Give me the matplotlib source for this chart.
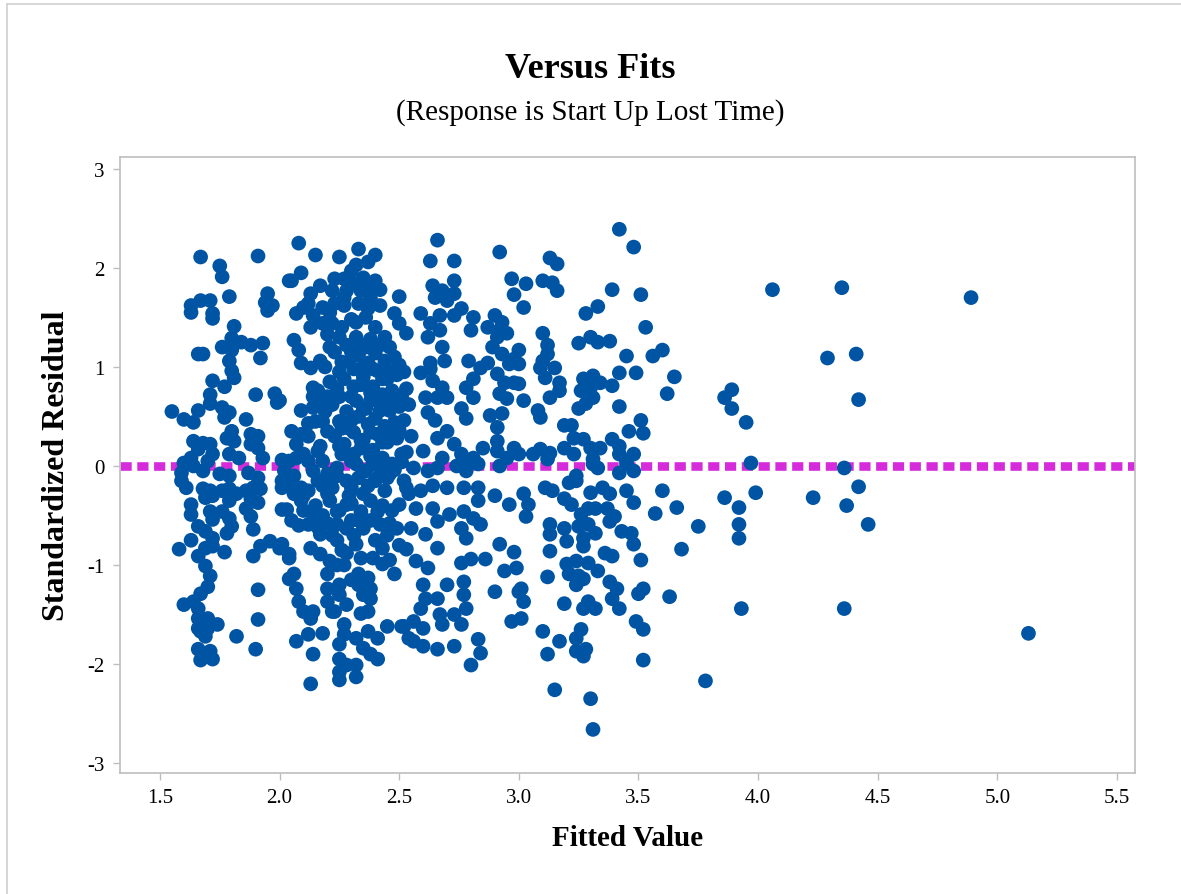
import matplotlib
matplotlib.use("Agg")
import matplotlib.pyplot as plt
from matplotlib.lines import Line2D

plt.rcParams["font.family"] = ["Liberation Serif", "DejaVu Serif"]
plt.rcParams["axes.unicode_minus"] = False

# fitted values and standardized residuals, grouped by region of the plot
fit_left = [
    1.67, 1.91, 1.75, 1.76, 2.04, 1.63, 1.67, 1.71, 1.63, 1.72, 1.72, 1.79,
    1.95, 1.94, 1.97, 1.95, 1.81, 1.80, 1.76, 1.84, 1.88, 1.93, 1.92, 1.80,
    1.79, 1.80, 1.81, 1.66, 1.68, 1.72, 1.77, 1.90, 1.98, 1.99, 1.71, 1.71,
    1.55, 1.60, 1.64, 1.66, 1.76, 1.79, 1.77, 1.86, 1.80, 1.78, 1.81, 1.79,
    1.83, 1.88, 1.91, 1.88, 1.91, 1.93, 1.64, 1.68, 1.71, 1.66, 1.72, 1.70,
    1.63, 1.60, 1.59, 1.64, 1.68, 2.01, 1.75, 1.79, 1.87, 1.91, 2.01,
    1.59, 1.61, 1.68, 1.71, 1.69, 1.72, 1.76, 1.79, 1.79, 1.82, 1.86, 1.89,
    1.92, 1.91, 1.88, 2.01, 2.01, 1.63, 1.63, 1.71, 1.72, 1.76, 1.79, 1.80,
    1.78, 1.86, 1.88, 1.89, 1.66, 1.69, 1.72, 1.72, 1.63, 1.58, 1.66, 1.69,
    1.77, 1.89, 1.92, 1.96, 2.00, 2.04, 1.69, 1.71, 1.70, 1.67, 1.91, 2.04,
    1.60, 1.64, 1.66, 1.66, 1.70, 1.66, 1.70, 1.74, 1.69, 1.67, 1.91, 1.82,
    1.66, 1.71, 1.67, 1.72, 1.90,
]
res_left = [
    2.11, 2.12, 2.02, 1.91, 1.87, 1.62, 1.67, 1.67, 1.55, 1.54, 1.49, 1.71,
    1.74, 1.65, 1.62, 1.57, 1.41, 1.29, 1.20, 1.25, 1.22, 1.24, 1.09, 1.17,
    1.06, 0.96, 0.89, 1.13, 1.13, 0.86, 0.80, 0.72, 0.73, 0.64, 0.72, 0.63,
    0.55, 0.47, 0.44, 0.56, 0.59, 0.54, 0.49, 0.47, 0.35, 0.28, 0.25, 0.12,
    0.08, 0.32, 0.30, 0.22, 0.18, 0.08, 0.25, 0.23, 0.22, 0.17, 0.12, 0.05,
    0.08, 0.03, -0.07, 0.00, -0.05, 0.06, -0.08, -0.10, -0.07, -0.12, -0.15,
    -0.15, -0.22, -0.23, -0.25, -0.32, -0.30, -0.25, -0.23, -0.35, -0.28, -0.25, -0.22,
    -0.23, -0.37, -0.33, -0.22, -0.44, -0.39, -0.49, -0.46, -0.54, -0.46, -0.53, -0.61,
    -0.68, -0.43, -0.51, -0.64, -0.61, -0.66, -0.73, -0.81, -0.75, -0.84, -0.91, -0.83,
    -0.87, -0.91, -0.81, -0.76, -0.83, -0.93, -1.01, -1.11, -1.22, -1.29, -1.25, -1.14,
    -1.40, -1.37, -1.44, -1.54, -1.54, -1.64, -1.64, -1.60, -1.72, -1.67, -1.55, -1.72,
    -1.85, -1.87, -1.96, -1.95, -1.85,
]

fit_mid = [
    2.08, 2.15, 2.25, 2.33, 2.40, 2.32, 2.37, 2.05, 2.09, 2.17, 2.23, 2.27,
    2.35, 2.40, 2.42, 2.22, 2.28, 2.34, 2.38, 2.42, 2.50, 2.13, 2.12, 2.07,
    2.10, 2.18, 2.23, 2.27, 2.33, 2.37, 2.14, 2.13, 2.18, 2.22, 2.26, 2.32,
    2.48, 2.50, 2.53, 2.06, 2.08, 2.09, 2.13, 2.17, 2.14, 2.16, 2.18, 2.09,
    2.14, 2.12, 2.09, 2.07, 2.07, 2.00, 2.04, 2.14, 2.20,
    2.03, 2.04, 2.09, 2.09, 2.01, 2.04, 2.06, 2.07, 2.08, 2.10, 2.13, 2.14,
    2.07, 2.12, 2.14, 2.13, 2.18, 2.12, 2.14, 2.17, 2.13, 2.17, 2.21, 2.20,
    2.20, 2.20, 2.22, 2.22, 2.21, 2.24, 2.28, 2.24, 2.28, 2.35, 2.34, 2.35,
    2.32, 2.34, 2.33, 2.33, 2.35, 2.38, 2.25, 2.25, 2.28, 2.23, 2.27, 2.27,
    2.34, 2.37, 2.25, 2.25, 2.25, 2.25, 2.28, 2.32, 2.32, 2.32, 2.37, 2.35,
    2.41, 2.41, 2.38, 2.45, 2.51, 2.54, 2.41, 2.42, 2.43, 2.39, 2.43, 2.48,
    2.49, 2.50, 2.54, 2.38, 2.37,
]
res_mid = [
    2.25, 2.13, 2.11, 2.19, 2.13, 2.03, 2.06, 1.87, 1.95, 1.82, 1.89, 1.89,
    1.90, 1.87, 1.78, 1.77, 1.77, 1.77, 1.69, 1.62, 1.71, 1.74, 1.64, 1.54,
    1.60, 1.60, 1.64, 1.62, 1.64, 1.59, 1.52, 1.40, 1.44, 1.44, 1.40, 1.45,
    1.54, 1.44, 1.34, 1.27, 1.17, 1.04, 0.99, 1.06, 0.79, 0.76, 0.64, 0.56,
    0.59, 0.43, 0.32, 0.22, 0.08, 0.66, 0.05, -0.05, -0.08,
    -0.44, -0.15, -0.22, -0.35, -0.79, -0.89, -1.09, -1.24, -1.37, -1.47, -1.54, -1.47,
    -1.77, -1.70, -1.90, -2.20, -1.69, -0.59, -0.49, -0.69, -0.83, -0.89, -0.96, -1.09,
    -1.24, -1.37, -1.47, -0.12, -0.35, -0.46, -0.39, -0.59, -0.63, -0.28, -0.46, -0.63,
    -0.79, -0.93, -1.09, -1.20, -1.30, -1.34, -1.20, -1.30, -1.40, -1.47, -1.60, -1.70,
    -1.49, -1.47, -1.80, -1.95, -2.08, -2.16, -2.01, -2.01, -2.13, -1.74, -1.67, -1.84,
    -1.74, -1.95, -1.90, -1.62, -1.62, -1.74, -0.46, -0.59, -0.83, -0.93, -0.99, -1.09,
    -0.63, -0.39, -0.28, -1.24, -1.13,
]

# densest cluster, roughly 2.0 < fit < 2.55
fit_core = [
    2.23, 2.25, 2.24, 2.22, 2.25, 2.23, 2.26, 2.24, 2.22,
    2.28, 2.29, 2.27, 2.30, 2.28, 2.29, 2.27, 2.30, 2.28, 2.29,
    2.32, 2.33, 2.31, 2.34, 2.32, 2.33, 2.31, 2.34, 2.32, 2.33,
    2.36, 2.37, 2.35, 2.38, 2.36, 2.37, 2.35, 2.38, 2.36, 2.37,
    2.40, 2.41, 2.39, 2.42, 2.40, 2.41, 2.39, 2.42, 2.40,
    2.44, 2.45, 2.43, 2.46, 2.44, 2.45, 2.43, 2.46,
    2.48, 2.49, 2.47, 2.50, 2.48, 2.49, 2.51, 2.48,
    2.52, 2.53, 2.54, 2.52, 2.55, 2.53,
    2.12, 2.15, 2.17, 2.19, 2.20, 2.18, 2.16, 2.20, 2.12, 2.10, 2.21, 2.19, 2.21,
    2.02, 2.06, 2.10, 2.05, 2.18, 2.22, 2.26, 2.18, 2.25, 2.30, 2.31, 2.27, 2.30,
    2.38, 2.44, 2.47, 2.45, 2.40, 2.52, 2.50, 2.46,
    2.26, 2.25, 2.26, 2.25, 2.24, 2.30, 2.31, 2.30, 2.31, 2.30,
    2.34, 2.35, 2.35, 2.34, 2.35, 2.38, 2.39, 2.38, 2.38, 2.39,
    2.42, 2.43, 2.42, 2.43, 2.42, 2.46, 2.47, 2.46, 2.47,
    2.50, 2.51, 2.50, 2.51,
    2.30, 2.36, 2.40, 2.44, 2.46, 2.25, 2.20, 2.27, 2.31, 2.37, 2.30, 2.21,
    2.06, 2.10, 2.15, 2.08, 2.16, 2.20, 2.24, 2.28, 2.24, 2.30, 2.33, 2.38,
    2.43, 2.46, 2.40, 2.45, 2.12, 2.16, 2.05, 2.18, 2.14, 2.20,
]
res_core = [
    1.15, 0.95, 0.78, 0.62, 0.45, 0.30, 0.12, -0.02, -0.22,
    1.22, 1.05, 0.88, 0.70, 0.55, 0.38, 0.22, 0.05, -0.15, -0.30,
    1.30, 1.12, 0.98, 0.82, 0.66, 0.50, 0.34, 0.18, 0.02, -0.12,
    1.20, 1.04, 0.90, 0.74, 0.58, 0.42, 0.26, 0.10, -0.05, -0.20,
    1.14, 0.96, 0.80, 0.64, 0.48, 0.32, 0.16, 0.00, -0.14,
    1.06, 0.88, 0.72, 0.56, 0.40, 0.24, 0.08, -0.08,
    1.10, 0.92, 0.76, 0.60, 0.44, 0.28, 0.12, -0.04,
    0.95, 0.78, 0.62, 0.46, 0.30, 0.14,
    0.30, 0.45, 0.20, 0.55, 0.35, 0.05, -0.15, -0.28, -0.25, 0.12, 0.85, 1.00, 1.20,
    -0.05, -0.28, -0.45, -0.55, -0.50, -0.70, -0.85, -0.20, -0.45, -0.55, -0.70, -1.00, -1.15,
    -0.35, -0.25, -0.45, -0.70, -0.75, -0.15, -0.80, -0.95,
    1.05, 0.70, 0.38, 0.20, -0.10, 1.15, 0.80, 0.46, 0.12, -0.22,
    1.22, 1.00, 0.58, 0.26, -0.05, 1.28, 0.98, 0.66, 0.34, 0.02,
    1.22, 0.88, 0.56, 0.24, -0.08, 0.96, 0.64, 0.32, 0.02,
    1.02, 0.70, 0.36, 0.04,
    1.48, 1.50, 1.40, 1.30, 1.20, 1.30, 1.33, 1.70, 1.84, 1.80, 1.97, 1.55,
    -0.10, -0.30, -0.40, -0.60, -0.62, -0.58, -0.75, -0.88, -1.00, -0.38, -0.55, -0.55,
    -0.40, -0.58, -0.15, -0.12, 0.05, 0.15, 0.35, 0.45, 0.70, 0.70,
]

fit_right = [
    2.66, 2.63, 2.73, 2.92, 2.97, 3.03, 2.98, 3.02, 2.64, 2.68, 2.73, 2.65,
    2.70, 2.73, 2.59, 2.67, 2.63, 2.67, 2.62, 2.76, 2.81, 2.73, 2.80, 2.90,
    2.93, 2.87, 2.92, 2.95, 2.91, 2.89, 2.93, 3.00, 2.96, 2.98, 2.68, 2.69,
    2.63, 2.63, 2.79, 2.84, 2.87, 2.81, 2.78, 2.81, 2.91, 2.94, 2.98, 2.92,
    2.95, 3.02, 2.59, 2.64, 2.68, 2.70, 2.66, 2.61, 2.62, 2.76, 2.78, 2.88,
    2.93, 2.91, 2.91, 2.91, 2.65, 2.70, 2.66, 2.73, 2.76, 2.68, 2.60, 2.85,
    2.81, 2.78, 2.98, 3.00, 2.95,
    2.56, 2.62, 2.66, 2.74, 2.78, 2.83, 2.92, 2.53, 2.59, 2.64, 2.70, 2.77,
    2.83, 2.83, 2.90, 2.96, 3.02, 3.03, 2.57, 2.64, 2.71, 2.77, 2.81, 2.84,
    2.55, 2.61, 2.66, 2.76, 2.78, 2.53, 2.57, 2.62, 2.66, 2.76, 2.80, 2.86,
    2.92, 2.98, 2.94, 2.99, 2.60, 2.61, 2.59, 2.66, 2.70, 2.77, 2.77, 2.78,
    2.67, 2.73, 2.76, 2.68, 2.90, 3.00, 3.02, 2.97, 3.01, 2.52, 2.56, 2.60,
    2.56, 2.60, 2.66, 2.73, 2.83, 2.84, 2.80,
]
res_right = [
    2.28, 2.07, 2.07, 2.16, 1.89, 1.84, 1.73, 1.60, 1.82, 1.77, 1.87, 1.70,
    1.67, 1.74, 1.54, 1.52, 1.44, 1.37, 1.30, 1.59, 1.50, 1.52, 1.37, 1.52,
    1.45, 1.40, 1.37, 1.34, 1.30, 1.20, 1.13, 1.17, 1.03, 1.08, 1.20, 1.06,
    1.04, 0.98, 1.06, 0.99, 1.04, 0.88, 0.79, 0.69, 0.93, 0.84, 0.84, 0.73,
    0.68, 0.66, 0.94, 0.86, 0.79, 0.69, 0.69, 0.69, 0.54, 0.58, 0.48, 0.51,
    0.53, 0.39, 0.25, 0.15, 0.46, 0.35, 0.28, 0.22, 0.12, 0.08, 0.15, 0.18,
    0.08, 0.02, 0.18, 0.12, 0.08,
    -0.02, -0.05, -0.02, 0.00, -0.05, 0.02, 0.00, -0.22, -0.25, -0.20, -0.22, -0.22,
    -0.22, -0.35, -0.30, -0.39, -0.28, -0.51, -0.43, -0.43, -0.49, -0.46, -0.53, -0.59,
    -0.63, -0.69, -0.56, -0.63, -0.73, -0.84, -0.96, -1.03, -0.83, -0.98, -0.94, -0.94,
    -0.79, -0.87, -1.06, -1.03, -1.20, -1.34, -1.44, -1.34, -1.20, -1.17, -1.30, -1.44,
    -1.50, -1.50, -1.60, -1.60, -1.27, -1.27, -1.37, -1.57, -1.54, -1.62, -1.57, -1.64,
    -1.77, -1.82, -1.85, -1.82, -1.75, -1.89, -2.01,
]

fit_high = [
    3.42, 3.48, 3.13, 3.16, 3.10, 3.14, 3.16, 3.39, 3.51, 3.28, 3.33, 3.53,
    3.10, 3.12, 3.25, 3.30, 3.33, 3.38, 3.00, 3.10, 3.12, 3.09, 3.11, 3.15,
    3.17, 3.17, 3.13, 3.45, 3.56, 3.60, 3.42, 3.49, 3.27, 3.31, 3.26, 3.30,
    3.34, 3.39, 3.31, 3.28, 3.25, 3.00, 3.42, 3.62, 3.08, 3.09, 3.19, 3.22,
    3.23, 3.27, 3.39, 3.42, 3.46, 3.51, 3.52, 3.06, 3.09, 3.13, 3.12, 3.19,
    3.23, 3.30, 3.34, 3.31, 3.42, 3.48, 3.45, 3.42, 3.48, 3.33, 3.24,
    3.31, 3.45, 3.11, 3.14, 3.21, 3.24, 3.19, 3.22, 3.04, 3.30, 3.35, 3.38,
    3.32, 3.29, 3.37, 3.40, 3.45, 3.48, 3.60, 3.57, 3.26, 3.25, 3.29, 3.32,
    3.27, 3.38, 3.13, 3.13, 3.19, 3.20, 3.27, 3.43, 3.47, 3.48, 3.13, 3.36,
    3.39, 3.51, 3.20, 3.24, 3.29, 3.33, 3.21, 3.25, 3.24, 3.27, 3.12, 3.38,
    3.41, 3.39, 3.42, 3.50, 3.52, 3.63, 3.01, 3.19, 3.27, 3.32, 3.29, 3.49,
    3.52, 3.10, 3.17, 3.12, 3.26, 3.24, 3.24, 3.28, 3.27, 3.52, 3.15, 3.30,
    3.31,
    4.06, 4.35, 4.29, 4.41, 3.65, 3.89, 3.86, 3.89, 3.95, 4.42, 3.97, 4.36,
    4.42, 3.86, 3.99, 4.23, 3.92, 3.66, 4.37, 3.75, 3.92, 3.92, 4.46, 3.68,
    3.93, 4.36, 4.89, 5.13, 3.78,
]
res_high = [
    2.39, 2.21, 2.10, 2.04, 1.87, 1.85, 1.77, 1.78, 1.73, 1.54, 1.61, 1.40,
    1.34, 1.22, 1.24, 1.30, 1.25, 1.26, 1.03, 1.06, 1.13, 0.99, 0.89, 0.99,
    0.84, 0.76, 0.69, 1.11, 1.11, 1.17, 0.94, 0.94, 0.88, 0.91, 0.76, 0.79,
    0.84, 0.81, 0.69, 0.63, 0.58, 0.83, 0.60, 0.73, 0.56, 0.49, 0.41, 0.41,
    0.28, 0.27, 0.27, 0.20, 0.35, 0.46, 0.33, 0.12, 0.17, 0.13, 0.07, 0.18,
    0.12, 0.18, 0.18, 0.07, 0.12, 0.12, 0.05, -0.07, -0.05, -0.02, -0.10,
    0.02, 0.02, -0.22, -0.25, -0.17, -0.15, -0.33, -0.39, -0.39, -0.27, -0.22, -0.28,
    -0.43, -0.43, -0.43, -0.51, -0.25, -0.37, -0.25, -0.48, -0.49, -0.61, -0.59, -0.68,
    -0.73, -0.56, -0.59, -0.69, -0.63, -0.76, -0.81, -0.66, -0.68, -0.79, -0.86, -0.88,
    -0.91, -0.95, -0.99, -0.96, -0.98, -1.06, -1.09, -1.11, -1.20, -1.14, -1.12, -1.17,
    -1.24, -1.34, -1.44, -1.29, -1.24, -1.32, -1.24, -1.39, -1.44, -1.44, -1.37, -1.57,
    -1.65, -1.67, -1.77, -1.90, -1.65, -1.74, -1.87, -1.85, -1.92, -1.96, -2.26, -2.35,
    -2.66,
    1.78, 1.80, 1.09, 1.13, 0.90, 0.77, 0.69, 0.58, 0.44, 0.67, 0.03, -0.02,
    -0.21, -0.32, -0.27, -0.32, -0.42, -0.42, -0.40, -0.61, -0.59, -0.73, -0.59, -0.84,
    -1.44, -1.44, 1.70, -1.69, -2.17,
]

fitted = fit_left + fit_mid + fit_core + fit_right + fit_high
resid = res_left + res_mid + res_core + res_right + res_high

x_ticks = [1.5, 2.0, 2.5, 3.0, 3.5, 4.0, 4.5, 5.0, 5.5]
y_ticks = [-3, -2, -1, 0, 1, 2, 3]

dot_color = "#0054A4"
ref_color = "#D52BDB"
frame_gray = "#BEBEBE"

fig = plt.figure(figsize=(11.81, 8.95), dpi=100)
ax = fig.add_axes([0.1016, 0.1352, 0.8594, 0.6883])

ax.axhline(0, color=ref_color, lw=6.2, linestyle=(0, (1.3, 0.65)),
           dash_capstyle="butt", zorder=1)
ax.scatter(fitted, resid, s=112, c=dot_color, edgecolors="none", zorder=3)

ax.set_xlim(1.333, 5.575)
ax.set_ylim(-3.10, 3.12)
ax.set_xticks(x_ticks)
ax.set_xticklabels([f"{v:.1f}" for v in x_ticks])
ax.set_yticks(y_ticks)
ax.set_yticklabels([str(v) for v in y_ticks])

for side in ax.spines.values():
    side.set_color(frame_gray)
    side.set_linewidth(1.2)
ax.tick_params(direction="out", length=5, width=1, color=frame_gray,
               labelsize=15, pad=6)

ax.set_xlabel("Fitted Value", fontsize=21, fontweight="bold", labelpad=12)
ax.set_ylabel("Standardized Residual", fontsize=23, fontweight="bold", labelpad=12)

fig.text(0.5, 0.922, "Versus Fits", ha="center", va="center",
         fontsize=26, fontweight="bold")
fig.text(0.5, 0.874, "(Response is Start Up Lost Time)", ha="center",
         va="center", fontsize=21)

# thin gray border along the top and left edges of the page
fig.add_artist(Line2D([7 / 1181, 7 / 1181], [0, 1 - 5 / 895],
                      transform=fig.transFigure, color="#D0D0D0", lw=1.2))
fig.add_artist(Line2D([7 / 1181, 1], [1 - 5 / 895, 1 - 5 / 895],
                      transform=fig.transFigure, color="#D0D0D0", lw=1.2))

fig.savefig("out.png", dpi=100, facecolor="white")
